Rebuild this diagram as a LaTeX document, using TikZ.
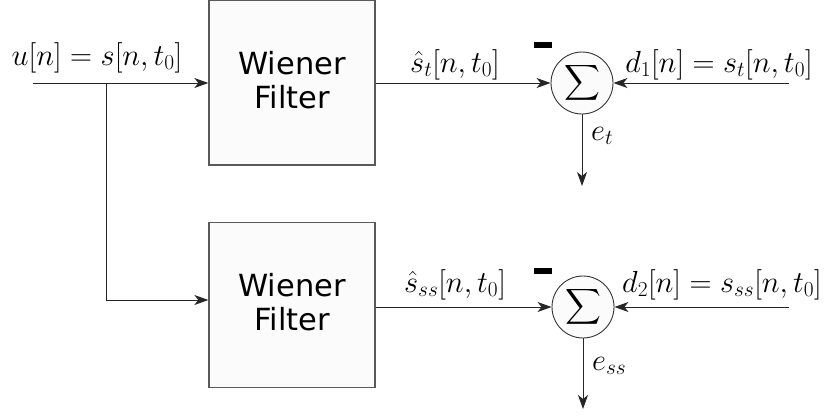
\RequirePackage{fix-cm}
\documentclass[tikz,border=0pt]{standalone}
\usepackage{amsmath}
\usepackage{fontspec}
\newfontfamily\blockfont{DejaVu Sans}
\usetikzlibrary{arrows.meta}

\tikzset{
  filterbox/.style={draw=black!65, line width=1.3pt, fill=black!1.5,
    minimum width=166pt, minimum height=165pt, inner sep=0pt,
    align=center, font=\blockfont\fontsize{30.5}{34}\selectfont},
  boxtext/.style={inner sep=0pt, align=center,
    font=\blockfont\fontsize{30.5}{34}\selectfont},
  sumnode/.style={circle, draw=black!80, line width=0.9pt, fill=black!1.5,
    minimum size=62pt, inner sep=0pt, font=\fontsize{24}{26}\selectfont},
  wire/.style={draw=black!85, line width=1pt},
  sig/.style={wire, -{Stealth[length=14pt,width=10pt,inset=4pt]}},
  lbl/.style={inner sep=0pt, anchor=base, font=\fontsize{30.5}{33}\selectfont},
  minusbar/.style={fill=black}
}

\begin{document}
\begin{tikzpicture}[x=1pt, y=-1pt]
  \useasboundingbox (0,0) rectangle (830,416);

  % filter blocks
  \node[filterbox] (wf1) at (292,82.5) {};
  \node[filterbox] (wf2) at (292,305) {};
  \node[boxtext] (t1) at (292,80) {Wiener\\Filter};
  \node[boxtext] (t2) at (292,302.5) {Wiener\\Filter};

  % summing junctions
  \node[sumnode] (s1) at (582,83) {$\displaystyle\sum$};
  \node[sumnode] (s2) at (583,307) {$\displaystyle\sum$};

  % input and branch
  \coordinate (in) at (33,83);
  \coordinate (br) at (106,83);
  \coordinate (brd) at (106,300);
  \draw[sig] (in) -- (wf1.west |- in);
  \draw[sig] (br) -- (brd) -- (wf2.west |- brd);

  % filter outputs into the junctions
  \draw[sig] (wf1.east |- s1) -- (s1.west);
  \draw[sig] (wf2.east |- s2) -- (s2.west);

  % desired signals
  \coordinate (d1) at (789,83);
  \coordinate (d2) at (789,307);
  \draw[sig] (d1) -- (s1.east);
  \draw[sig] (d2) -- (s2.east);

  % error outputs
  \coordinate (e1) at (582,186);
  \coordinate (e2) at (583,409);
  \draw[sig] (s1.south) -- (e1);
  \draw[sig] (s2.south) -- (e2);

  % minus signs
  \fill[minusbar] (534,42) rectangle (552,47.5);
  \fill[minusbar] (534,268) rectangle (552,273.5);

  % labels
  \node[lbl] (lu) at (97,65) {$u[n]=s[n,t_0]$};
  \node[lbl] (ls1) at (455,72) {$\hat{s}_t[n,t_0]$};
  \node[lbl] (ld1) at (719,72) {$d_1[n]=s_t[n,t_0]$};
  \node[lbl, anchor=base west] (le1) at (591,140) {$e_t$};
  \node[lbl] (ls2) at (455,292) {$\hat{s}_{ss}[n,t_0]$};
  \node[lbl] (ld2) at (722,292) {$d_2[n]=s_{ss}[n,t_0]$};
  \node[lbl, anchor=base west] (le2) at (592,370) {$e_{ss}$};
\end{tikzpicture}
\end{document}
